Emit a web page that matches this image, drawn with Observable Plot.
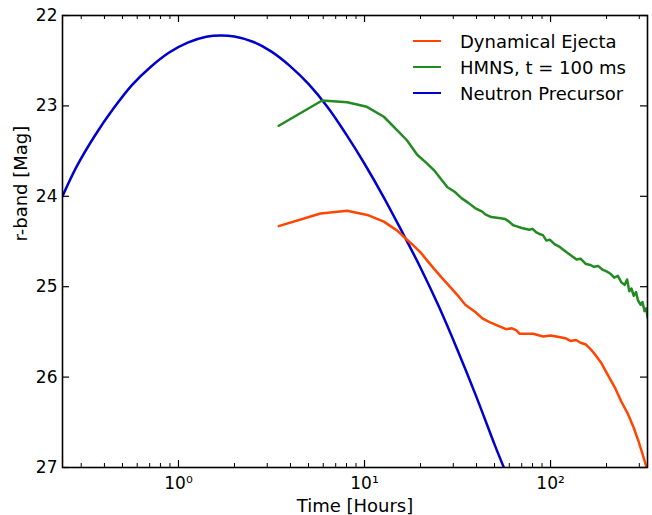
<!DOCTYPE html>
<html>
<head>
<meta charset="utf-8">
<script src="https://cdn.jsdelivr.net/npm/d3@7"></script>
<script src="https://cdn.jsdelivr.net/npm/@observablehq/plot@0.6"></script>
<style>
  body { margin: 0; background: #fff; }
  #wrap { position: relative; width: 652px; height: 515px; font-family: "DejaVu Sans", sans-serif; }
  #legend { position: absolute; left: 413px; top: 28px; font-size: 18px; color: #000; }
  .row { display: flex; align-items: center; height: 26px; }
  .sw { width: 28px; height: 0; border-top: 2.5px solid; margin-right: 19px; }
</style>
</head>
<body>
<div id="wrap"><div id="legend"></div></div>
<script>
// Series names and colours
const seriesNames = ["Dynamical Ejecta", "HMNS, t = 100 ms", "Neutron Precursor"];
const seriesColors = ["#FF4500", "#228B22", "#0000CD"];

// Dynamical Ejecta (time in hours, r-band magnitude)
const ejectaT = [3.46, 5.8, 8.07, 10.5, 12.7, 15.0, 16.3, 18.0, 20.0, 21.9, 23.6, 26.0, 28.2, 31.5, 34.8, 39.4, 43.0, 46.7, 52, 57.6, 62, 65.3, 68.1, 74, 80.5, 91.4, 100, 113, 120, 128, 137, 145, 155, 164, 175, 187, 200, 221, 240, 261, 280, 296, 312, 325, 330];
const ejectaM = [24.33, 24.19, 24.16, 24.21, 24.28, 24.38, 24.45, 24.53, 24.62, 24.72, 24.80, 24.90, 24.98, 25.09, 25.20, 25.28, 25.35, 25.39, 25.43, 25.47, 25.46, 25.48, 25.52, 25.52, 25.52, 25.55, 25.54, 25.56, 25.57, 25.60, 25.59, 25.62, 25.64, 25.69, 25.76, 25.84, 25.95, 26.11, 26.27, 26.41, 26.56, 26.70, 26.85, 26.97, 27.02];

// HMNS, t = 100 ms
const hmnsT = [3.46, 5.92, 8.07, 10.3, 12.7, 15.0, 16.9, 19.2, 21.5, 23.6, 26.0, 27.9, 30.5, 33.2, 36.0, 39.3, 42.9, 44.6, 48.0, 52.7, 57.0, 59.8, 63.0, 65.3, 70.0, 76.9, 80.0, 84.0, 88.0, 91.0, 95.0, 99.1, 105, 112, 122, 130, 138, 145, 155, 164, 171, 180, 190, 200, 211, 220, 230, 240, 250, 258, 265, 272, 280, 288, 295, 305, 312, 320, 327, 332];
const hmnsM = [23.22, 22.94, 22.96, 23.01, 23.12, 23.27, 23.38, 23.54, 23.63, 23.71, 23.82, 23.90, 23.95, 24.02, 24.07, 24.13, 24.17, 24.20, 24.23, 24.24, 24.25, 24.28, 24.32, 24.33, 24.35, 24.37, 24.36, 24.40, 24.42, 24.43, 24.49, 24.48, 24.53, 24.56, 24.62, 24.66, 24.70, 24.69, 24.75, 24.76, 24.78, 24.77, 24.81, 24.83, 24.86, 24.90, 24.88, 24.95, 24.98, 24.92, 25.05, 25.02, 25.10, 25.06, 25.15, 25.20, 25.17, 25.27, 25.24, 25.34];

// Neutron Precursor
const precT = [0.238, 0.282, 0.355, 0.447, 0.562, 0.708, 0.891, 1.12, 1.41, 1.69, 2.0, 2.51, 3.16, 3.98, 5.01, 6.31, 7.94, 10.0, 12.6, 15.8, 20.0, 25.1, 31.6, 39.8, 50.1, 56.1];
const precM = [24.0, 23.68, 23.33, 23.03, 22.77, 22.57, 22.41, 22.30, 22.235, 22.22, 22.233, 22.29, 22.40, 22.56, 22.76, 23.01, 23.31, 23.64, 24.00, 24.38, 24.79, 25.22, 25.70, 26.21, 26.75, 27.0];

// Axes
const xDomain = [0.238, 332];
const yDomain = [27, 22];
const xMajor = [1, 10, 100];
const xMinor = [0.3, 0.4, 0.5, 0.6, 0.7, 0.8, 0.9, 2, 3, 4, 5, 6, 7, 8, 9, 20, 30, 40, 50, 60, 70, 80, 90, 200, 300];
const yTicks = [22, 23, 24, 25, 26, 27];
const sup = {0: "\u2070", 1: "\u00B9", 2: "\u00B2"};

const W = 652, H = 515, mL = 62, mR = 5, mT = 15, mB = 48;
const pw = W - mL - mR, ph = H - mT - mB;

const mk = (T, M) => T.map((t, i) => ({t, m: M[i]}));
const ejecta = mk(ejectaT, ejectaM);
const hmns = mk(hmnsT, hmnsM);
const prec = mk(precT, precM);

const chart = Plot.plot({
  width: W, height: H,
  marginLeft: mL, marginRight: mR, marginTop: mT, marginBottom: mB,
  style: {fontFamily: "DejaVu Sans, sans-serif", fontSize: "17px", background: "#fff", color: "#000"},
  x: {type: "log", domain: xDomain, ticks: xMajor, tickSize: 0, tickPadding: 9,
      tickFormat: d => "10" + sup[Math.round(Math.log10(d))], label: null},
  y: {domain: yDomain, ticks: yTicks, tickSize: 0, tickPadding: 5, tickFormat: d => String(d), label: null},
  marks: [
    Plot.line(prec, {x: "t", y: "m", stroke: seriesColors[2], strokeWidth: 2.5, curve: "catmull-rom", clip: true}),
    Plot.line(hmns, {x: "t", y: "m", stroke: seriesColors[1], strokeWidth: 2.5, clip: true}),
    Plot.line(ejecta, {x: "t", y: "m", stroke: seriesColors[0], strokeWidth: 2.5, clip: true}),
    // inward ticks
    Plot.tickY(yTicks, {y: d => d, insetRight: pw - 7, stroke: "#000", strokeWidth: 1.2}),
    Plot.tickY(yTicks, {y: d => d, insetLeft: pw - 7, stroke: "#000", strokeWidth: 1.2}),
    Plot.tickX(xMajor, {x: d => d, insetTop: ph - 7, stroke: "#000", strokeWidth: 1.2}),
    Plot.tickX(xMajor, {x: d => d, insetBottom: ph - 7, stroke: "#000", strokeWidth: 1.2}),
    Plot.tickX(xMinor, {x: d => d, insetTop: ph - 4, stroke: "#000", strokeWidth: 1}),
    Plot.tickX(xMinor, {x: d => d, insetBottom: ph - 4, stroke: "#000", strokeWidth: 1}),
    Plot.frame({stroke: "#000", strokeWidth: 1.6}),
    Plot.text(["Time [Hours]"], {frameAnchor: "bottom", dy: 39, lineAnchor: "middle", fontSize: 18, fill: "#000"}),
    Plot.text(["r-band [Mag]"], {frameAnchor: "left", dx: -41, rotate: -90, fontSize: 18, fill: "#000"})
  ]
});
const wrap = document.getElementById("wrap");
wrap.insertBefore(chart, wrap.firstChild);

const legend = document.getElementById("legend");
seriesNames.forEach((n, i) => {
  const r = document.createElement("div");
  r.className = "row";
  r.innerHTML = `<span class="sw" style="border-color:${seriesColors[i]}"></span><span>${n}</span>`;
  legend.appendChild(r);
});
</script>
</body>
</html>
